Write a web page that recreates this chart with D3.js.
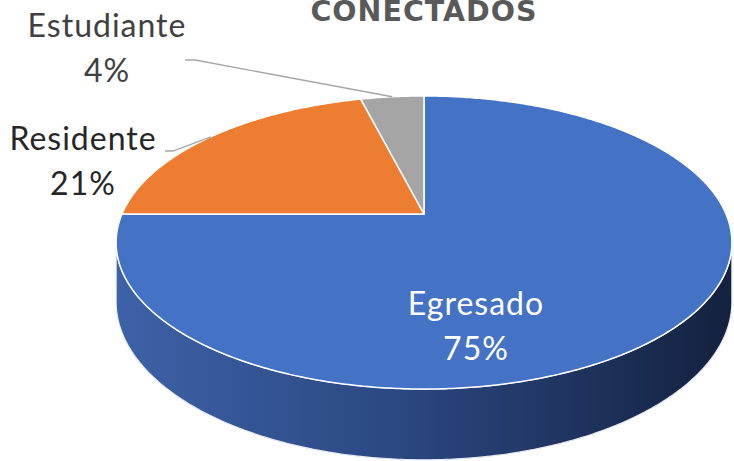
<!DOCTYPE html>
<html>
<head>
<meta charset="utf-8">
<script src="https://cdn.jsdelivr.net/npm/d3@7"></script>
<style>
html,body{margin:0;padding:0;background:#fff;}
svg{display:block;}
</style>
</head>
<body>
<svg id="chart" width="734" height="461"></svg>
<script>
// ---- data ----
const title = "CONECTADOS";
const categories = ["Egresado", "Residente", "Estudiante"];
const values = [75, 21, 4];
const percentLabels = ["75%", "21%", "4%"];
const colors = ["#4472C4", "#ED7D31", "#A5A5A5"];

// ---- layout ----
const W = 734, H = 461;
const cx = 424, cy = 214;      // pie vertex on screen
const R = 302;                 // horizontal radius at depth 0
const A = 141;                 // vertical radius factor
const B = 0.1945;              // perspective factor
const Hth = 57;                // thickness
const fontFam = "Lato, 'Open Sans', 'DejaVu Sans', sans-serif";

const svg = d3.select("#chart");

function project(theta, r, h) {
  const u = r * Math.sin(theta), v = -r * Math.cos(theta);
  const den = 1 - B * v;
  return [cx + R * u / den, cy + (A * v + (h || 0)) / den];
}

const pie = d3.pie().sort(null).value(d => d)(values);
const line = d3.line();

function arcPoints(a0, a1, h) {
  const n = Math.max(2, Math.ceil(Math.abs(a1 - a0) / 0.01));
  return d3.range(n + 1).map(i => project(a0 + (a1 - a0) * i / n, 1, h));
}

// side gradient
const defs = svg.append("defs");
const grad = defs.append("linearGradient").attr("id", "sideGrad")
  .attr("gradientUnits", "userSpaceOnUse")
  .attr("x1", cx - R * 1.02).attr("x2", cx + R * 1.02).attr("y1", 0).attr("y2", 0);
grad.append("stop").attr("offset", "0%").attr("stop-color", "#3d62a7");
grad.append("stop").attr("offset", "45%").attr("stop-color", "#2b4882");
grad.append("stop").attr("offset", "100%").attr("stop-color", "#14213f");

// visible side range (v >= B)
const vis0 = Math.acos(-B), vis1 = 2 * Math.PI - Math.acos(-B);

pie.forEach((d, i) => {
  const a0 = Math.max(d.startAngle, vis0), a1 = Math.min(d.endAngle, vis1);
  if (a1 > a0) {
    const pts = arcPoints(a0, a1, 0).concat(arcPoints(a1, a0, Hth));
    svg.append("path")
      .attr("d", line(pts) + "Z")
      .attr("fill", i === 0 ? "url(#sideGrad)" : d3.color(colors[i]).darker(1))
      .attr("stroke", "#e6e9ef").attr("stroke-width", 1.2);
  }
});

// top faces
pie.forEach((d, i) => {
  const pts = [project(0, 0, 0)].concat(arcPoints(d.startAngle, d.endAngle, 0));
  svg.append("path")
    .attr("d", line(pts) + "Z")
    .attr("fill", colors[i])
    .attr("stroke", "#ffffff").attr("stroke-width", 1.5)
    .attr("stroke-linejoin", "round");
});

// title
svg.append("text")
  .attr("x", 424).attr("y", 21)
  .attr("text-anchor", "middle")
  .attr("font-family", "'DejaVu Sans', sans-serif")
  .attr("font-weight", "bold")
  .attr("font-size", 28.5)
  .attr("letter-spacing", "1px")
  .attr("fill", "#595959")
  .text(title);

// labels
const labelPos = [
  { x: 476, y: 315, inside: true },
  { x: 83, y: 150, lead: [165, 151, 173] },
  { x: 107, y: 37, lead: [185, 60, 195] }
];
const labelColors = ["#ffffff", "#262626", "#404040"];

pie.forEach((d, i) => {
  const p = labelPos[i];
  const t = svg.append("text")
    .attr("text-anchor", "middle")
    .attr("font-family", fontFam)
    .attr("font-weight", 400)
    .attr("font-size", 32)
    .attr("letter-spacing", "1px")
    .attr("fill", labelColors[i]);
  t.append("tspan").attr("x", p.x).attr("y", p.y).text(categories[i]);
  t.append("tspan").attr("x", p.x).attr("y", p.y + 45).text(percentLabels[i]);
  if (p.lead) {
    const mid = (d.startAngle + d.endAngle) / 2;
    const e = project(mid, 1, 0);
    svg.append("path")
      .attr("d", line([[p.lead[0], p.lead[1]], [p.lead[2], p.lead[1]], e]))
      .attr("fill", "none").attr("stroke", "#a6a6a6").attr("stroke-width", 1.3);
  }
});
</script>
</body>
</html>
